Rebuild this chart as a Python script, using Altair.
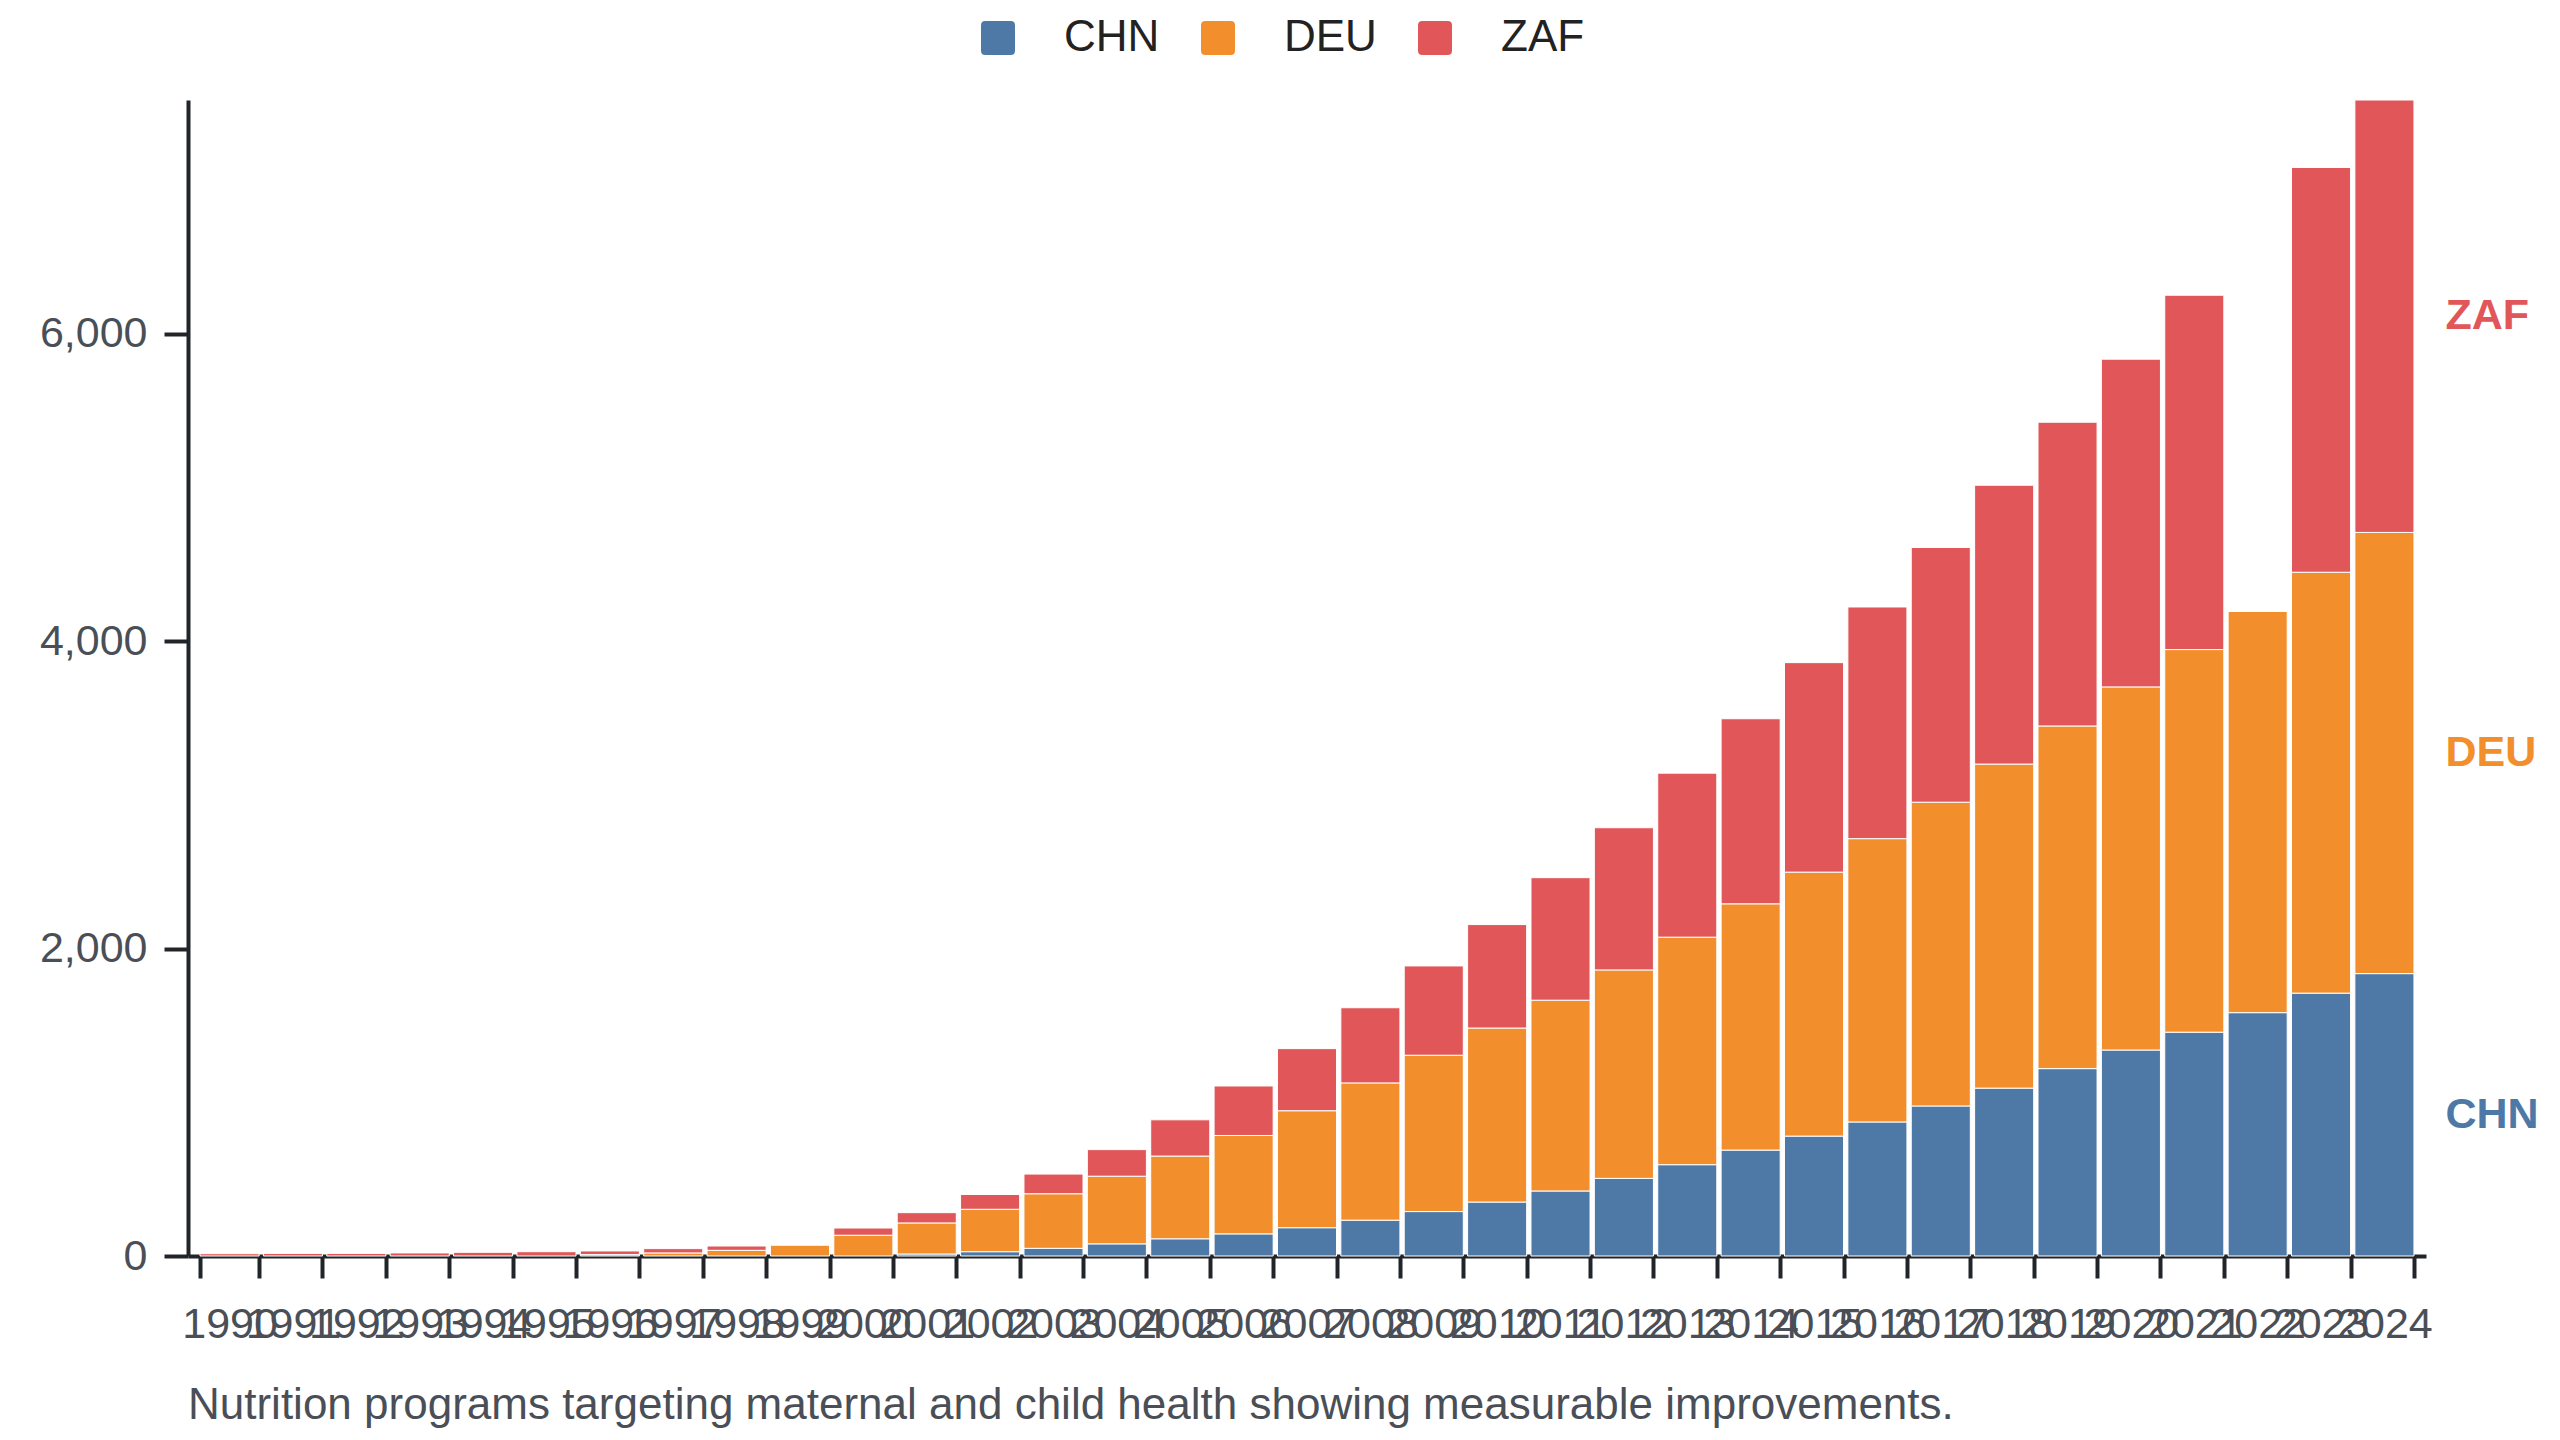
import altair as alt
import pandas as pd

years = list(range(1990, 2025))
series = ["CHN", "DEU", "ZAF"]
colors = ["#4e79a7", "#f28e2b", "#e15759"]

CHN = [None, None, None, None, None, None, None, None, None, None, None,
       13, 28, 50, 79, 112, 144, 184, 233, 289, 351, 423, 505, 594, 689,
       780, 872, 976, 1092, 1219, 1340, 1456, 1583, 1710, 1837]
DEU = [None, None, None, None, None, None,
       9, 20, 37, 70, 135, 202, 276, 355, 440, 538, 640, 761, 893, 1017,
       1132, 1241, 1356, 1480, 1602, 1717, 1843, 1976, 2108, 2229, 2362,
       2489, 2610, 2738, 2870]
ZAF = [15, 17, 17, 20, 24, 28, 24, 28, 28, None, 47, 67, 96, 128, 173,
       236, 322, 404, 489, 581, 673, 797, 925, 1067, 1204, 1363, 1507,
       1657, 1814, 1976, 2132, 2305, None, 2633, 2813]

caption = "Nutrition programs targeting maternal and child health showing measurable improvements."

rows = []
for si, (name, vals) in enumerate(zip(series, [CHN, DEU, ZAF])):
    for y, v in zip(years, vals):
        if v is not None:
            rows.append({"year": y, "country": name, "value": v, "ord": si})
df = pd.DataFrame(rows)

FONT = "Liberation Sans"
ymax = max(c + d + z for c, d, z in zip(
    [v or 0 for v in CHN], [v or 0 for v in DEU], [v or 0 for v in ZAF]))

xenc = alt.X(
    "year:O",
    title=None,
    scale=alt.Scale(paddingInner=0.068, paddingOuter=0.19),
    axis=alt.Axis(
        labelAngle=0,
        labelOverlap=False,
        labelBound=False,
        labelFontSize=43,
        labelColor="#4a4f57",
        labelFont=FONT,
        labelPadding=25,
        tickBand="extent",
        tickSize=22,
        tickWidth=4,
        tickColor="#212529",
        domainColor="#212529",
        domainWidth=4,
    ),
)

color = alt.Color(
    "country:N",
    scale=alt.Scale(domain=series, range=colors),
    legend=alt.Legend(
        title=None,
        orient="none",
        direction="horizontal",
        legendX=788,
        legendY=-84,
        symbolType="M-1,-0.75Q-1,-1,-0.75,-1L0.75,-1Q1,-1,1,-0.75L1,0.75Q1,1,0.75,1L-0.75,1Q-1,1,-1,0.75Z",
        symbolSize=1156,
        symbolStrokeWidth=0,
        labelFontSize=44,
        labelFont=FONT,
        labelColor="#222222",
        labelOffset=44,
        columnPadding=36,
    ),
)

bars = alt.Chart(df).mark_bar(stroke="white", strokeWidth=1).encode(
    x=xenc,
    y=alt.Y(
        "value:Q",
        title=None,
        stack="zero",
        scale=alt.Scale(domain=[0, ymax], nice=False),
        axis=alt.Axis(
            values=[0, 2000, 4000, 6000],
            format=",.0f",
            grid=False,
            labelFontSize=43,
            labelFont=FONT,
            labelColor="#4a4f57",
            labelPadding=17,
            tickSize=24,
            tickWidth=4,
            tickColor="#212529",
            domainColor="#212529",
            domainWidth=4,
        ),
    ),
    color=color,
    order=alt.Order("ord:Q", sort="ascending"),
)

labels = alt.Chart(df).transform_filter(
    alt.datum.year == years[-1]
).transform_window(
    cum="sum(value)", sort=[alt.SortField("ord", order="ascending")]
).transform_calculate(
    mid="datum.cum - datum.value / 2"
).mark_text(
    align="left", baseline="middle", dx=61, fontSize=43, fontWeight="bold", font=FONT
).encode(
    x=alt.X("year:O"),
    y=alt.Y("mid:Q"),
    text="country:N",
    color=alt.Color("country:N", scale=alt.Scale(domain=series, range=colors), legend=None),
)

chart = alt.layer(bars, labels).properties(
    width=2238,
    height=1156,
    autosize=alt.AutoSizeParams(type="none"),
    padding={"left": 180, "top": 92, "right": 126, "bottom": 182},
    background="white",
    title=alt.TitleParams(
        caption,
        orient="bottom",
        anchor="start",
        frame="group",
        fontSize=44,
        fontWeight="normal",
        font=FONT,
        color="#4a4f57",
        offset=38,
    ),
).configure_view(stroke="transparent", strokeWidth=0)

chart.save("out.html", embed_options={"renderer": "svg", "actions": False})
